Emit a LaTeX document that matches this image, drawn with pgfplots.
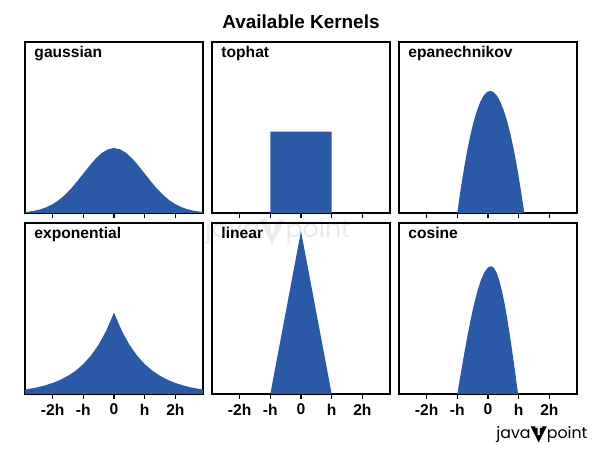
\documentclass[border=0pt]{standalone}
\usepackage{fontspec}
\setmainfont{Liberation Sans}
\newfontfamily\pop{Poppins}
\newfontfamily\dejavu{DejaVu Sans}
\usepackage{pgfplots}
\pgfplotsset{compat=1.18}
\definecolor{kblue}{HTML}{2A5AA7}
\newcommand\lblfont{\bfseries\fontsize{11.7}{14}\selectfont}
\newcommand\jtp[1]{java\ooalign{\raisebox{-0.12em}{\scalebox{1.35}{\dejavu\char"25BC}}\cr\hidewidth\raisebox{0.3ex}{\color{#1}\bfseries\fontsize{8}{9}\selectfont T}\hidewidth\cr}point}
\pgfplotsset{kern/.style={
  scale only axis, width=133.5pt, height=128.25pt, anchor=south west,
  xmin=-2.9, xmax=2.9, ymin=0, ymax=1.05,
  axis line style={line width=1.3pt},
  ytick=\empty, xtick={-2,-1,0,1,2},
  xtick pos=bottom,
  tick align=outside, major tick length=3.75pt,
  tick style={line width=0.9pt, black},
  tick label style={font=\lblfont},
  xticklabels={},
}}
\begin{document}
\begin{tikzpicture}
\useasboundingbox (0,0) rectangle (450pt,339pt);
% watermark
\node[anchor=base west, inner sep=0pt, text=black!8] at (153.75pt,160.5pt)
  {\resizebox{108.75pt}{!}{\pop\jtp{white}}};
\node[anchor=base, inner sep=0pt, font=\bfseries\fontsize{14.2}{17}\selectfont] at (225.75pt,317.8pt) {Available Kernels};
% gaussian
\begin{axis}[kern, at={(18.75pt,179.25pt)}]
\addplot[fill=kblue, draw=none] coordinates {
(-2.9,0.0060)(-2.8,0.0079)(-2.6,0.0136)(-2.4,0.0224)(-2.2,0.0355)(-2.0,0.0540)
(-1.8,0.0790)(-1.6,0.1109)(-1.4,0.1497)(-1.2,0.1942)(-1.0,0.2420)(-0.8,0.2897)
(-0.6,0.3332)(-0.4,0.3683)(-0.2,0.3910)(0,0.3989)(0.2,0.3910)(0.4,0.3683)
(0.6,0.3332)(0.8,0.2897)(1.0,0.2420)(1.2,0.1942)(1.4,0.1497)(1.6,0.1109)
(1.8,0.0790)(2.0,0.0540)(2.2,0.0355)(2.4,0.0224)(2.6,0.0136)(2.8,0.0079)(2.9,0.0060)
} \closedcycle;
\node[anchor=base west, inner sep=0pt, font=\lblfont] at (axis cs:-2.6,0.956) {gaussian};
\end{axis}
% tophat
\begin{axis}[kern, at={(159pt,179.25pt)}]
\addplot[fill=kblue, draw=none] coordinates {(-1,0)(-1,0.5)(1,0.5)(1,0)} \closedcycle;
\node[anchor=base west, inner sep=0pt, font=\lblfont] at (axis cs:-2.6,0.956) {tophat};
\end{axis}
% epanechnikov
\begin{axis}[kern, at={(299.25pt,179.25pt)}]
\addplot[fill=kblue, draw=none] coordinates {
(-1.0,0)(-0.946,0.0731)(-0.893,0.1425)(-0.786,0.27)(-0.679,0.3825)(-0.572,0.48)
(-0.465,0.5625)(-0.358,0.63)(-0.251,0.6825)(-0.144,0.72)(-0.037,0.7425)(0.07,0.75)
(0.181,0.7425)(0.292,0.72)(0.403,0.6825)(0.514,0.63)(0.625,0.5625)(0.736,0.48)
(0.847,0.3825)(0.958,0.27)(1.069,0.1425)(1.125,0.0731)(1.18,0)
} \closedcycle;
\node[anchor=base west, inner sep=0pt, font=\lblfont] at (axis cs:-2.6,0.956) {epanechnikov};
\end{axis}
% exponential
\begin{axis}[kern, at={(18.75pt,43.5pt)}, xticklabels={-2h,-h,0,h,2h}]
\addplot[fill=kblue, draw=none] coordinates {
(-2.9,0.0275)(-2.75,0.0320)(-2.5,0.0410)(-2.25,0.0527)(-2.0,0.0677)(-1.75,0.0869)
(-1.5,0.1116)(-1.25,0.1433)(-1.0,0.1839)(-0.75,0.2362)(-0.5,0.3033)(-0.25,0.3894)
(0,0.5)(0.25,0.3894)(0.5,0.3033)(0.75,0.2362)(1.0,0.1839)(1.25,0.1433)(1.5,0.1116)
(1.75,0.0869)(2.0,0.0677)(2.25,0.0527)(2.5,0.0410)(2.75,0.0320)(2.9,0.0275)
} \closedcycle;
\node[anchor=base west, inner sep=0pt, font=\lblfont] at (axis cs:-2.6,0.956) {exponential};
\end{axis}
% linear
\begin{axis}[kern, at={(159pt,43.5pt)}, xticklabels={-2h,-h,0,h,2h}]
\addplot[fill=kblue, draw=none] coordinates {(-1,0)(0,1)(1,0)} \closedcycle;
\node[anchor=base west, inner sep=0pt, font=\lblfont] at (axis cs:-2.6,0.956) {linear};
\end{axis}
% cosine
\begin{axis}[kern, at={(299.25pt,43.5pt)}, xticklabels={-2h,-h,0,h,2h}]
\addplot[fill=kblue, draw=none] coordinates {
(-1.0,0)(-0.89,0.1228)(-0.78,0.2426)(-0.67,0.3564)(-0.56,0.4614)(-0.45,0.5551)
(-0.34,0.6351)(-0.23,0.6994)(-0.12,0.7466)(-0.01,0.7753)(0.1,0.785)
(0.188,0.7753)(0.276,0.7466)(0.364,0.6994)(0.452,0.6351)(0.54,0.5551)
(0.628,0.4614)(0.716,0.3564)(0.804,0.2426)(0.892,0.1228)(0.98,0)
} \closedcycle;
\node[anchor=base west, inner sep=0pt, font=\lblfont] at (axis cs:-2.6,0.956) {cosine};
\end{axis}
% logo
\node[anchor=base east, inner sep=0pt] at (440.8pt,10.3pt)
  {\resizebox{68.25pt}{!}{\pop\jtp{white}}};
\end{tikzpicture}
\end{document}
